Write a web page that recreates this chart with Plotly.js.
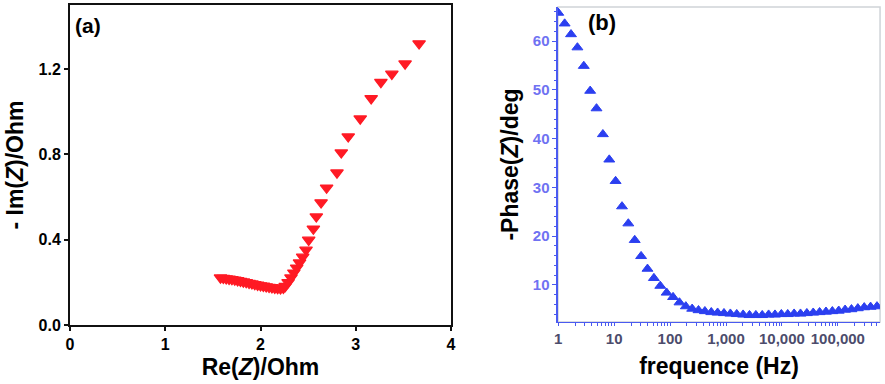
<!DOCTYPE html>
<html>
<head>
<meta charset="utf-8">
<script src="https://cdn.plot.ly/plotly-3.0.1.min.js"></script>
<style>
  html, body { margin: 0; padding: 0; background: #fff; }
  #chart { width: 885px; height: 384px; }
</style>
</head>
<body>
<div id="chart"></div>
<script>
// (a) Nyquist plot (high frequency first)
var reZ = [1.58, 1.61, 1.64, 1.67, 1.70, 1.73, 1.76, 1.79, 1.82, 1.85, 1.88,
           1.91, 1.94, 1.97, 2.00, 2.03, 2.06, 2.09, 2.12, 2.15, 2.18, 2.21,
           2.24, 2.26, 2.29, 2.32, 2.35, 2.38, 2.41,
           2.443, 2.478, 2.506, 2.555, 2.586, 2.636, 2.694, 2.803, 2.848,
           2.921, 3.047, 3.162, 3.264, 3.379, 3.518, 3.665];
var imZ = [0.222, 0.220, 0.218, 0.216, 0.214, 0.212, 0.209, 0.206, 0.203, 0.200, 0.197,
           0.194, 0.191, 0.188, 0.185, 0.183, 0.180, 0.178, 0.176, 0.174, 0.172, 0.171,
           0.174, 0.182, 0.200, 0.222, 0.245, 0.268, 0.292,
           0.319, 0.352, 0.399, 0.451, 0.508, 0.574, 0.643, 0.714, 0.808,
           0.883, 0.967, 1.062, 1.138, 1.177, 1.225, 1.319];

// (b) Bode phase plot
var freqHz = [1, 1.30, 1.69, 2.20, 2.86, 3.72, 4.83, 6.28, 8.17, 10.6,
              13.8, 17.9, 23.3, 30.3, 39.4, 51.3, 66.7, 86.7, 113, 147,
              191, 248, 322, 419, 545, 708, 920, 1197, 1556, 2023,
              2630, 3420, 4446, 5781, 7516, 9772, 12706, 16520, 21478, 27925,
              36308, 47206, 61376, 79799, 103753, 134896, 175388, 228034, 296483, 385478,
              501187];
var phaseDeg = [65.8, 63.6, 61.4, 58.7, 54.9, 49.8, 46.2, 40.9, 35.7, 31.3,
                26.1, 22.6, 19.2, 15.9, 13.3, 11.4, 9.8, 8.4, 7.5, 6.4,
                5.6, 5.1, 4.8, 4.6, 4.4, 4.3, 4.2, 4.1, 4.0, 3.9,
                3.8, 3.8, 3.8, 3.9, 3.9, 4.0, 4.0, 4.1, 4.1, 4.2,
                4.3, 4.4, 4.5, 4.6, 4.7, 4.9, 5.0, 5.2, 5.4, 5.5,
                5.6];

var FONT = 'Liberation Sans, Arial, sans-serif';

var nyquist = {
  x: reZ, y: imZ, xaxis: 'x', yaxis: 'y',
  type: 'scatter', mode: 'markers',
  marker: { symbol: 'triangle-down', size: 11, color: '#ff1a24',
            line: { color: '#ff1a24', width: 1.2 } },
  showlegend: false, hoverinfo: 'x+y'
};

var phase = {
  x: freqHz, y: phaseDeg, xaxis: 'x2', yaxis: 'y2',
  type: 'scatter', mode: 'markers',
  marker: { symbol: 'triangle-up', size: 9.5, color: '#2b3ff0',
            line: { color: '#2b3ff0', width: 1 } },
  showlegend: false, hoverinfo: 'x+y'
};

var layout = {
  width: 885, height: 384,
  margin: { l: 0, r: 0, t: 0, b: 0 },
  paper_bgcolor: '#fff', plot_bgcolor: '#fff',
  font: { family: FONT, color: '#000' },
  xaxis: {
    domain: [0.0791, 0.5096], range: [0, 4],
    dtick: 1, showgrid: false, zeroline: false,
    showline: true, linecolor: '#111', linewidth: 2, mirror: true,
    ticks: 'outside', ticklen: 4, tickwidth: 2, tickcolor: '#111',
    tickfont: { size: 16, weight: 'bold', family: FONT },
    title: { text: 'Re(<i>Z</i>)/Ohm', standoff: 7,
             font: { size: 23, weight: 'bold', family: FONT } }
  },
  yaxis: {
    domain: [0.1536, 0.987], range: [0, 1.5],
    dtick: 0.4, tickformat: '.1f', showgrid: false, zeroline: false,
    showline: true, linecolor: '#111', linewidth: 2, mirror: true,
    ticks: 'outside', ticklen: 4, tickwidth: 2, tickcolor: '#111',
    tickfont: { size: 16, weight: 'bold', family: FONT },
    title: { text: '- Im(<i>Z</i>)/Ohm', standoff: 8,
             font: { size: 23, weight: 'bold', family: FONT } }
  },
  xaxis2: {
    domain: [0.6305, 0.9944], type: 'log', range: [-0.005, 5.755],
    dtick: 1, tickformat: ',.0f', showgrid: false, zeroline: false,
    showline: true, linecolor: '#4a5af0', linewidth: 1.5,
    ticks: 'outside', ticklen: 3, tickcolor: '#4a5af0',
    minor: { ticks: 'outside', ticklen: 3, dtick: 'D1', tickcolor: '#4a5af0' },
    tickfont: { size: 15, weight: 'bold', family: FONT, color: '#4c4c6c' },
    title: { text: 'frequence (Hz)', standoff: 11,
             font: { size: 23, weight: 'bold', family: FONT } },
    anchor: 'y2'
  },
  yaxis2: {
    domain: [0.1615, 0.9818], range: [2.4, 67],
    dtick: 10, showgrid: false, zeroline: false,
    showline: true, linecolor: '#4a5af0', linewidth: 1.5,
    ticks: 'outside', ticklen: 4, tickcolor: '#4a5af0',
    minor: { ticks: 'outside', ticklen: 2, dtick: 2, tickcolor: '#4a5af0' },
    tickfont: { size: 15, weight: 'bold', family: FONT, color: '#6f72f2' },
    title: { text: '-Phase(<i>Z</i>)/deg', standoff: 8,
             font: { size: 23, weight: 'bold', family: FONT } },
    anchor: 'x2'
  },
  shapes: [
    { type: 'rect', xref: 'x2 domain', yref: 'y2 domain', x0: 0, x1: 1, y0: 0, y1: 1,
      line: { color: '#cfd3d8', width: 1.5 }, layer: 'below' }
  ],
  annotations: [
    { text: '(a)', xref: 'paper', yref: 'paper', x: 0.0825, y: 0.968,
      xanchor: 'left', yanchor: 'top', showarrow: false,
      font: { size: 21, weight: 'bold', family: FONT } },
    { text: '(b)', xref: 'paper', yref: 'paper', x: 0.662, y: 0.978,
      xanchor: 'left', yanchor: 'top', showarrow: false,
      font: { size: 22, weight: 'bold', family: FONT } }
  ]
};

Plotly.newPlot('chart', [nyquist, phase], layout, { displayModeBar: false, staticPlot: true });
</script>
</body>
</html>
